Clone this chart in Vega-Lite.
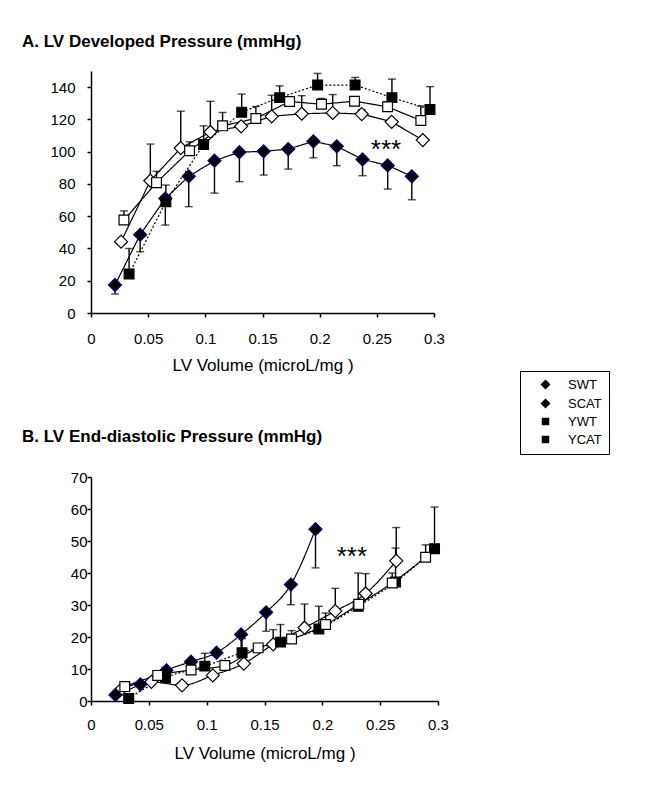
{
  "$schema": "https://vega.github.io/schema/vega-lite/v6.json",
  "background": "white",
  "padding": {"left": 22, "top": 33, "right": 190, "bottom": 5},
  "config": {
    "font": "Liberation Sans",
    "view": {"stroke": null},
    "axis": {"domainColor": "black", "domainWidth": 1.5, "tickColor": "black", "tickWidth": 1.5, "tickSize": 4, "labelColor": "black", "labelFont": "Liberation Sans", "labelFontSize": 15, "titleFont": "Liberation Sans", "titleFontSize": 17, "titleFontWeight": "normal", "titleColor": "black", "grid": false, "labelFlush": false, "labelOverlap": false, "labelBound": false},
    "title": {"font": "Liberation Sans", "fontSize": 17, "fontWeight": "bold", "color": "black", "anchor": "start", "frame": "group"}
  },
  "spacing": 164,
  "bounds": "flush",
  "resolve": {
    "scale": {"shape": "independent", "fill": "independent", "stroke": "independent", "strokeDash": "independent"},
    "legend": {"shape": "independent", "fill": "independent", "stroke": "independent", "strokeDash": "independent"}
  },
  "datasets": {
    "A": [
      {"s": "SWT", "v": 0.021, "p": 17.4, "e": 11.8},
      {"s": "SWT", "v": 0.043, "p": 48.5, "e": 38},
      {"s": "SWT", "v": 0.065, "p": 71, "e": 54.5},
      {"s": "SWT", "v": 0.0855, "p": 84.7, "e": 65.9},
      {"s": "SWT", "v": 0.108, "p": 94.4, "e": 74.3},
      {"s": "SWT", "v": 0.1298, "p": 99.7, "e": 81.4},
      {"s": "SWT", "v": 0.151, "p": 100.2, "e": 85.5},
      {"s": "SWT", "v": 0.1725, "p": 101.6, "e": 89.2},
      {"s": "SWT", "v": 0.1945, "p": 106.4, "e": 96.2},
      {"s": "SWT", "v": 0.215, "p": 103.3, "e": 91.3},
      {"s": "SWT", "v": 0.2375, "p": 95.2, "e": 85.1},
      {"s": "SWT", "v": 0.2595, "p": 91.5, "e": 76.8},
      {"s": "SWT", "v": 0.2806, "p": 84.7, "e": 70.2},
      {"s": "SCAT", "v": 0.0263, "p": 44.2, "e": null},
      {"s": "SCAT", "v": 0.0519, "p": 82, "e": 104.7},
      {"s": "SCAT", "v": 0.0785, "p": 102.2, "e": 125.1},
      {"s": "SCAT", "v": 0.1044, "p": 112.2, "e": 131.2},
      {"s": "SCAT", "v": 0.1313, "p": 115.7, "e": null},
      {"s": "SCAT", "v": 0.158, "p": 121.9, "e": 135},
      {"s": "SCAT", "v": 0.1843, "p": 123.5, "e": 134.7},
      {"s": "SCAT", "v": 0.2114, "p": 124, "e": 135.4},
      {"s": "SCAT", "v": 0.2368, "p": 123.3, "e": 126},
      {"s": "SCAT", "v": 0.263, "p": 118.5, "e": null},
      {"s": "SCAT", "v": 0.2902, "p": 107.2, "e": null},
      {"s": "YWT", "v": 0.0333, "p": 24.2, "e": 40},
      {"s": "YWT", "v": 0.0655, "p": 69, "e": 79.3},
      {"s": "YWT", "v": 0.0985, "p": 104.5, "e": 116},
      {"s": "YWT", "v": 0.1318, "p": 124.5, "e": 135.7},
      {"s": "YWT", "v": 0.165, "p": 133.5, "e": 140.8},
      {"s": "YWT", "v": 0.1982, "p": 141.3, "e": 148.5},
      {"s": "YWT", "v": 0.231, "p": 141.3, "e": 146},
      {"s": "YWT", "v": 0.2632, "p": 133.5, "e": 145},
      {"s": "YWT", "v": 0.2965, "p": 126.2, "e": 140.3},
      {"s": "YCAT", "v": 0.0288, "p": 57.6, "e": 63.3},
      {"s": "YCAT", "v": 0.0573, "p": 80.8, "e": 87.8},
      {"s": "YCAT", "v": 0.0862, "p": 100.6, "e": 106.1},
      {"s": "YCAT", "v": 0.1151, "p": 116, "e": 124.3},
      {"s": "YCAT", "v": 0.1442, "p": 120.6, "e": 128},
      {"s": "YCAT", "v": 0.1737, "p": 131.1, "e": 134},
      {"s": "YCAT", "v": 0.2016, "p": 129.4, "e": 133},
      {"s": "YCAT", "v": 0.2305, "p": 131.3, "e": 134},
      {"s": "YCAT", "v": 0.2594, "p": 127.8, "e": 131},
      {"s": "YCAT", "v": 0.2885, "p": 119.3, "e": 128.4}
    ],
    "B": [
      {"s": "SWT", "v": 0.0211, "p": 1.9, "e": null},
      {"s": "SWT", "v": 0.0427, "p": 5.2, "e": null},
      {"s": "SWT", "v": 0.0652, "p": 9.6, "e": null},
      {"s": "SWT", "v": 0.0865, "p": 12.3, "e": null},
      {"s": "SWT", "v": 0.1085, "p": 15.1, "e": null},
      {"s": "SWT", "v": 0.1298, "p": 20.8, "e": 16},
      {"s": "SWT", "v": 0.1514, "p": 27.7, "e": 21.8},
      {"s": "SWT", "v": 0.1728, "p": 36.4, "e": 30.1},
      {"s": "SWT", "v": 0.1941, "p": 53.7, "e": 41.6},
      {"s": "SCAT", "v": 0.0268, "p": 3.9, "e": null},
      {"s": "SCAT", "v": 0.0522, "p": 6, "e": null},
      {"s": "SCAT", "v": 0.0787, "p": 4.9, "e": null},
      {"s": "SCAT", "v": 0.1053, "p": 8, "e": null},
      {"s": "SCAT", "v": 0.1321, "p": 11.7, "e": null},
      {"s": "SCAT", "v": 0.1575, "p": 17.7, "e": 22.3},
      {"s": "SCAT", "v": 0.1846, "p": 22.9, "e": 30.3},
      {"s": "SCAT", "v": 0.2112, "p": 28.1, "e": 35.2},
      {"s": "SCAT", "v": 0.2374, "p": 33.6, "e": 39.8},
      {"s": "SCAT", "v": 0.2639, "p": 43.8, "e": 54.2},
      {"s": "YWT", "v": 0.0326, "p": 0.8, "e": null},
      {"s": "YWT", "v": 0.0644, "p": 7.3, "e": 10.5},
      {"s": "YWT", "v": 0.0984, "p": 10.9, "e": 14.9},
      {"s": "YWT", "v": 0.1306, "p": 15.1, "e": 19.5},
      {"s": "YWT", "v": 0.1638, "p": 18.4, "e": 23.9},
      {"s": "YWT", "v": 0.197, "p": 22.5, "e": 29.6},
      {"s": "YWT", "v": 0.231, "p": 29.6, "e": 40},
      {"s": "YWT", "v": 0.2633, "p": 37.2, "e": 47.8},
      {"s": "YWT", "v": 0.297, "p": 47.6, "e": 60.6},
      {"s": "YCAT", "v": 0.0292, "p": 4.5, "e": null},
      {"s": "YCAT", "v": 0.0577, "p": 8, "e": null},
      {"s": "YCAT", "v": 0.0865, "p": 9.7, "e": null},
      {"s": "YCAT", "v": 0.1157, "p": 11.1, "e": null},
      {"s": "YCAT", "v": 0.1445, "p": 16.6, "e": null},
      {"s": "YCAT", "v": 0.1734, "p": 19.4, "e": 22},
      {"s": "YCAT", "v": 0.2028, "p": 23.9, "e": 27.5},
      {"s": "YCAT", "v": 0.2315, "p": 30.2, "e": null},
      {"s": "YCAT", "v": 0.2604, "p": 36.9, "e": 40},
      {"s": "YCAT", "v": 0.2893, "p": 44.9, "e": 48.8}
    ],
    "noteA": [{"v": 0.258, "p": 103.8, "t": "***"}],
    "noteB": [{"v": 0.2255, "p": 46.4, "t": "***"}]
  },
  "vconcat": [
    {
      "width": 343,
      "height": 242,
      "title": {"text": "A. LV Developed Pressure (mmHg)", "dx": -69, "offset": 20},
      "data": {"name": "A"},
      "encoding": {
        "x": {"field": "v", "type": "quantitative", "scale": {"domain": [0, 0.3], "nice": false, "zero": false}, "axis": {"title": "LV Volume (microL/mg )", "values": [0, 0.05, 0.1, 0.15, 0.2, 0.25, 0.3], "format": "~g", "labelPadding": 14, "titlePadding": 11}},
        "y": {"field": "p", "type": "quantitative", "scale": {"domain": [0, 150], "nice": false}, "axis": {"title": null, "values": [0, 20, 40, 60, 80, 100, 120, 140], "labelPadding": 12}}
      },
      "layer": [
        {
          "mark": {"type": "line", "color": "black", "strokeWidth": 1.2},
          "encoding": {
            "detail": {"field": "s"},
            "strokeDash": {"field": "s", "type": "nominal", "scale": {"domain": ["YCAT", "YWT", "SCAT", "SWT"], "range": [[1, 0], [2, 2], [1, 0], [1, 0]]}, "legend": null}
          }
        },
        {
          "transform": [{"filter": "datum.e != null"}],
          "mark": {"type": "rule", "color": "black", "strokeWidth": 1.4},
          "encoding": {"y2": {"field": "e"}}
        },
        {
          "transform": [{"filter": "datum.e != null"}],
          "mark": {"type": "tick", "color": "black", "orient": "horizontal", "size": 8, "thickness": 1.4},
          "encoding": {"y": {"field": "e", "type": "quantitative", "title": null}}
        },
        {
          "mark": {"type": "point", "filled": true, "opacity": 1, "strokeWidth": 1.2, "size": 170},
          "encoding": {
            "shape": {"field": "s", "type": "nominal", "scale": {"domain": ["SWT", "SCAT", "YWT", "YCAT"], "range": ["M0,-1L1,0L0,1L-1,0Z", "M0,-1L1,0L0,1L-1,0Z", "M-0.75,-0.75H0.75V0.75H-0.75Z", "M-0.75,-0.75H0.75V0.75H-0.75Z"]},
              "legend": {
                "title": null, "orient": "none", "legendX": 429, "legendY": 300, "direction": "vertical",
                "strokeColor": "black", "padding": 7, "labelFontSize": 13, "labelFont": "Liberation Sans", "labelColor": "black",
                "rowPadding": 4, "symbolSize": 100, "symbolOffset": 12, "labelOffset": 16, "symbolStrokeWidth": 1.2,
                "encode": {"symbols": {
                  "shape": {"value": {"expr": "datum.value == 'SWT' || datum.value == 'SCAT' ? 'M-2.8,0H-1M1,0H2.8M0,-1L1,0L0,1L-1,0Z' : 'M-2.8,0H-0.8M0.8,0H2.8M-0.8,-0.8H0.8V0.8H-0.8Z'"}},
                  "fill": {"value": {"expr": "datum.value == 'SWT' || datum.value == 'YWT' ? 'black' : 'white'"}},
                  "stroke": {"value": "black"},
                  "strokeDash": {"value": {"expr": "datum.value == 'YWT' ? [2, 1.5] : [1, 0]"}}
                }}
              }},
            "fill": {"field": "s", "type": "nominal", "scale": {"domain": ["SCAT", "SWT", "YCAT", "YWT"], "range": ["white", "black", "white", "black"]}, "legend": null},
            "stroke": {"field": "s", "type": "nominal", "scale": {"domain": ["YWT", "YCAT", "SWT", "SCAT"], "range": ["black", "black", "#000080", "black"]}, "legend": null}
          }
        },
        {
          "data": {"name": "noteA"},
          "mark": {"type": "text", "fontSize": 26, "color": "black", "baseline": "alphabetic", "dy": 12},
          "encoding": {"text": {"field": "t"}}
        }
      ]
    },
    {
      "width": 347,
      "height": 224,
      "title": {"text": "B. LV End-diastolic Pressure (mmHg)", "dx": -69, "offset": 24},
      "data": {"name": "B"},
      "encoding": {
        "x": {"field": "v", "type": "quantitative", "scale": {"domain": [0, 0.3], "nice": false, "zero": false}, "axis": {"title": "LV Volume (microL/mg )", "values": [0, 0.05, 0.1, 0.15, 0.2, 0.25, 0.3], "format": "~g", "labelPadding": 12, "titlePadding": 13}},
        "y": {"field": "p", "type": "quantitative", "scale": {"domain": [0, 70], "nice": false}, "axis": {"title": null, "values": [0, 10, 20, 30, 40, 50, 60, 70], "labelPadding": 0}}
      },
      "layer": [
        {
          "mark": {"type": "line", "color": "black", "strokeWidth": 1.2, "interpolate": "monotone"},
          "encoding": {
            "detail": {"field": "s"},
            "strokeDash": {"field": "s", "type": "nominal", "scale": {"domain": ["SWT", "SCAT", "YWT", "YCAT"], "range": [[1, 0], [1, 0], [2, 2], [1, 0]]}, "legend": null}
          }
        },
        {
          "transform": [{"filter": "datum.e != null"}],
          "mark": {"type": "rule", "color": "black", "strokeWidth": 1.4},
          "encoding": {"y2": {"field": "e"}}
        },
        {
          "transform": [{"filter": "datum.e != null"}],
          "mark": {"type": "tick", "color": "black", "orient": "horizontal", "size": 8, "thickness": 1.4},
          "encoding": {"y": {"field": "e", "type": "quantitative", "title": null}}
        },
        {
          "mark": {"type": "point", "filled": true, "opacity": 1, "strokeWidth": 1.2, "size": 170},
          "encoding": {
            "shape": {"field": "s", "type": "nominal", "scale": {"domain": ["SWT", "SCAT", "YWT", "YCAT"], "range": ["M0,-1L1,0L0,1L-1,0Z", "M0,-1L1,0L0,1L-1,0Z", "M-0.75,-0.75H0.75V0.75H-0.75Z", "M-0.75,-0.75H0.75V0.75H-0.75Z"]}, "legend": null},
            "fill": {"field": "s", "type": "nominal", "scale": {"domain": ["SWT", "SCAT", "YWT", "YCAT"], "range": ["black", "white", "black", "white"]}, "legend": null},
            "stroke": {"field": "s", "type": "nominal", "scale": {"domain": ["SWT", "SCAT", "YWT", "YCAT"], "range": ["#000080", "black", "black", "black"]}, "legend": null}
          }
        },
        {
          "data": {"name": "noteB"},
          "mark": {"type": "text", "fontSize": 26, "color": "black", "baseline": "alphabetic", "dy": 12},
          "encoding": {"text": {"field": "t"}}
        }
      ]
    }
  ]
}
